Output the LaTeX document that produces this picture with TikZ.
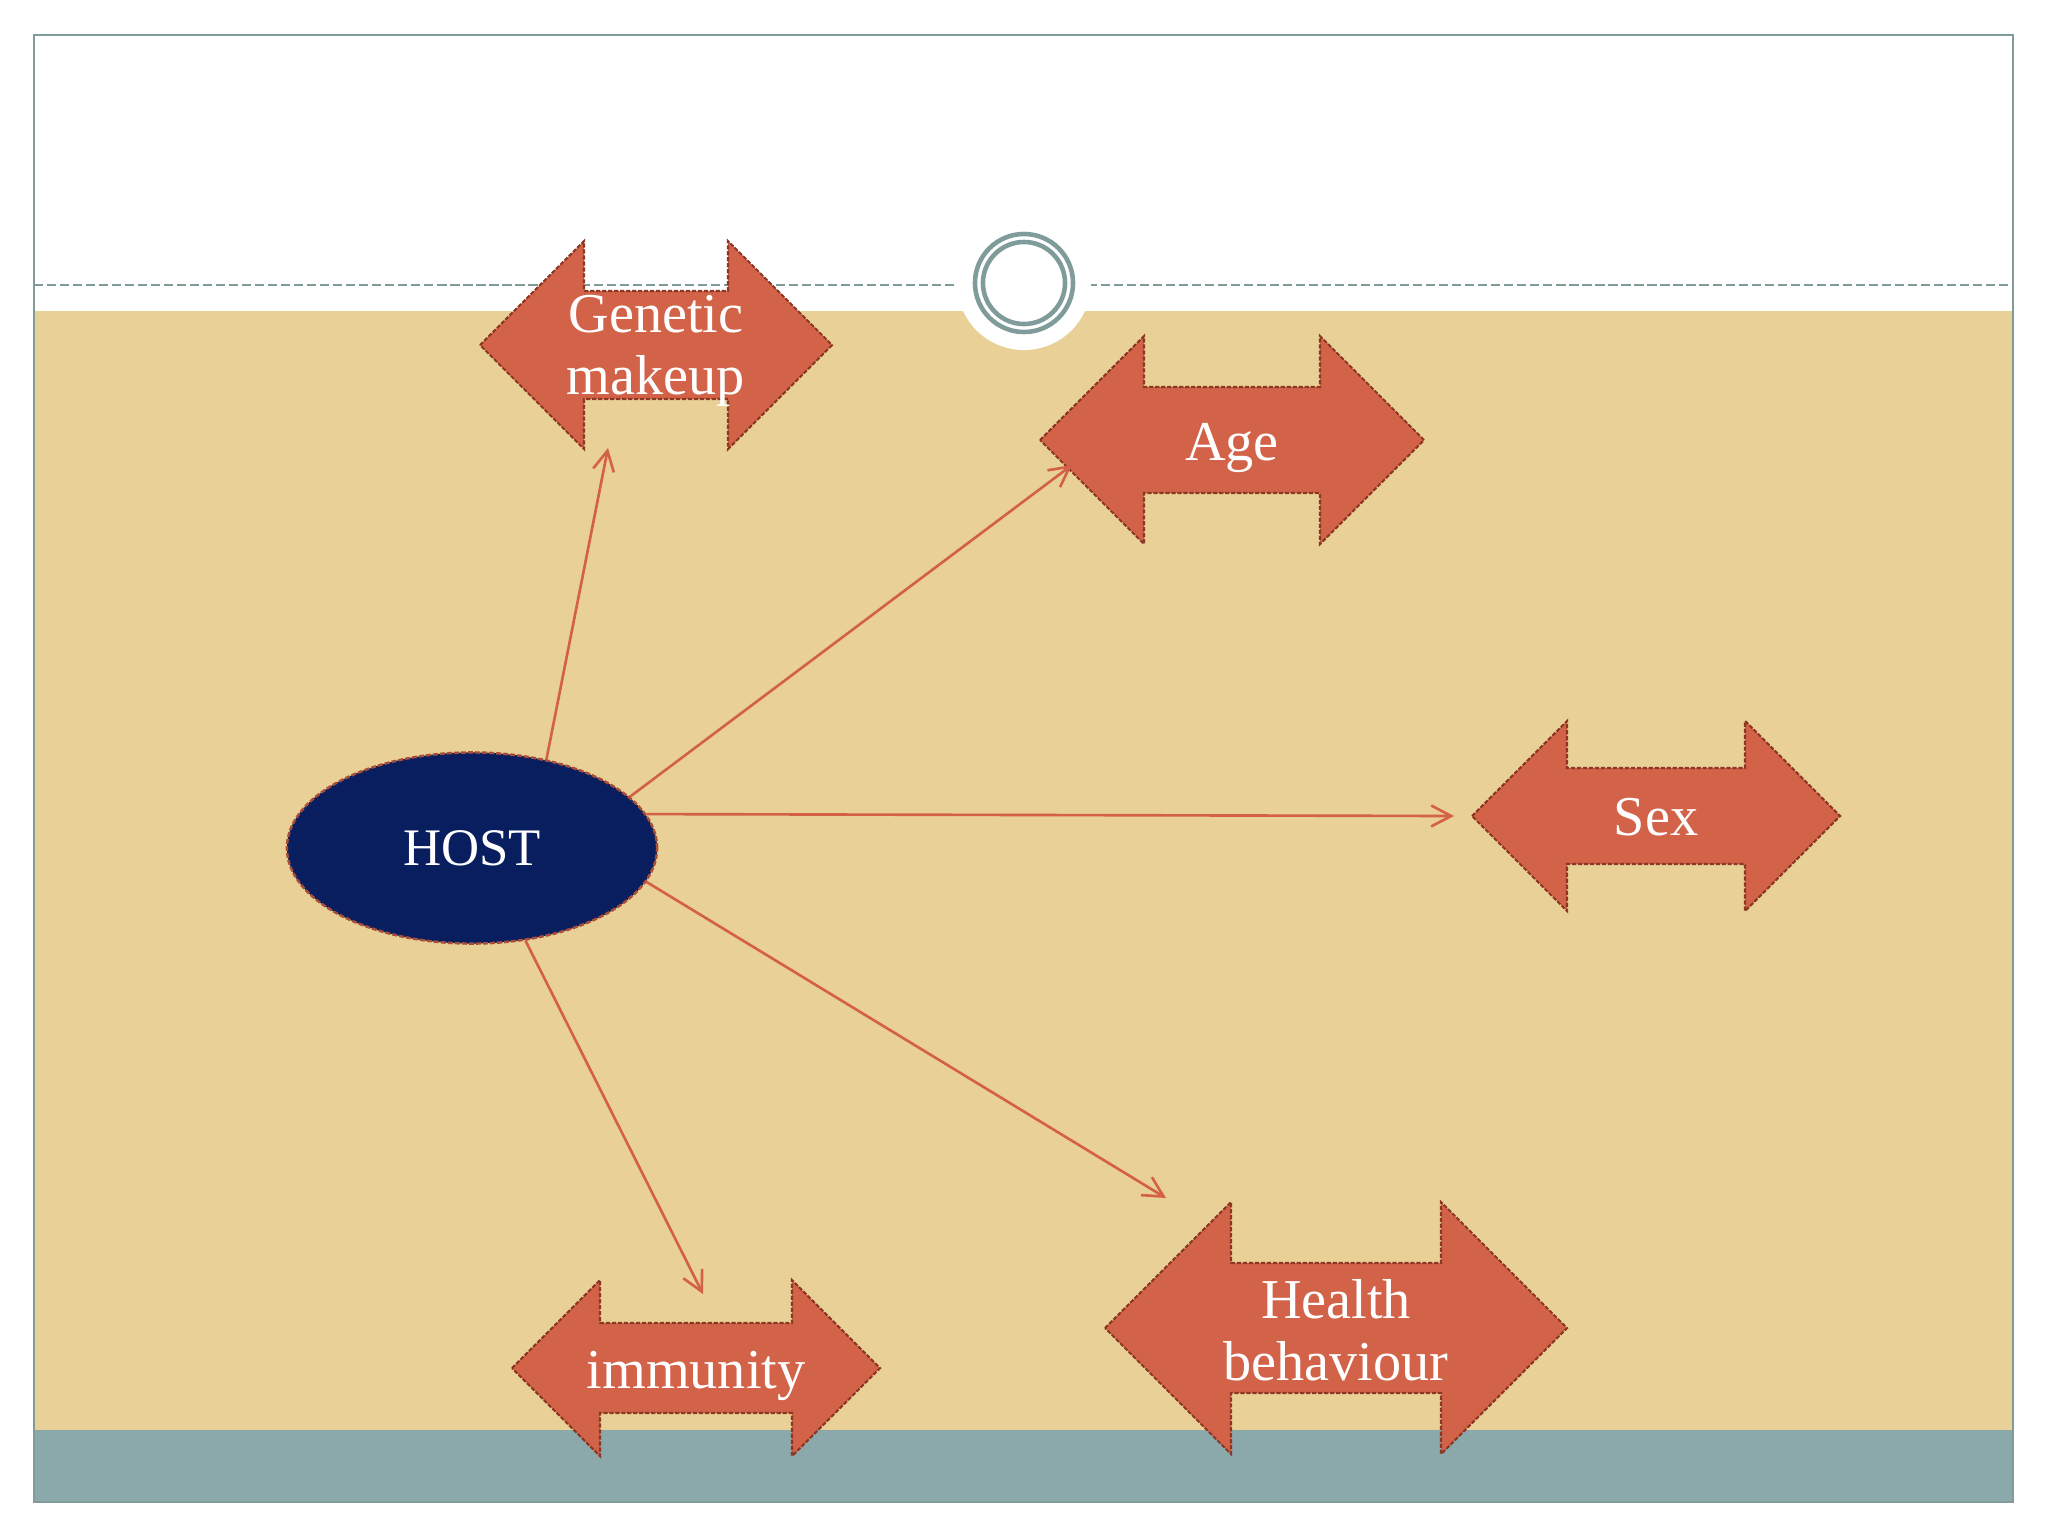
\documentclass[tikz,border=0pt]{standalone}
\usepackage{fontspec}
\setmainfont{Liberation Serif}
\usetikzlibrary{arrows.meta,shapes.geometric}

\definecolor{papyrus}{RGB}{232,208,150}
\definecolor{slate}{RGB}{127,156,154}
\definecolor{band}{RGB}{139,168,171}
\definecolor{brick}{RGB}{210,98,72}
\definecolor{brickline}{RGB}{140,55,35}
\definecolor{navy}{RGB}{8,30,94}
\definecolor{linkred}{RGB}{212,96,70}

\tikzset{
  dblarrow/.style={fill=brick, draw=brickline, line width=0.6pt, dash pattern=on 1.2pt off 0.5pt},
  lbl/.style={text=white, font=\fontsize{16}{17.5}\selectfont, align=center, inner sep=0pt},
  hostnode/.style={ellipse, fill=navy, draw=linkred!80!black, line width=0.7pt,
    dash pattern=on 1.4pt off 0.6pt, minimum width=3.7cm, minimum height=1.91cm,
    inner sep=0pt, text=white, font=\fontsize{15}{17}\selectfont},
  hostlink/.style={draw=linkred, line width=0.75pt, -{Straight Barb[length=2mm,width=2.1mm]}}
}

\begin{document}
\begin{tikzpicture}[x=0.01cm,y=-0.01cm]
\useasboundingbox (0,0) rectangle (2048,1536);
% slide
\fill[white] (0,0) rectangle (2048,1536);
\fill[papyrus] (34,311) rectangle (2013,1430);
\fill[band] (34,1430) rectangle (2013,1502);
\draw[slate, line width=0.6pt] (34,35) rectangle (2013,1502);
\draw[slate, line width=0.7pt, dash pattern=on 2.6pt off 1.1pt] (34,285) -- (2013,285);
\fill[white] (1024,283) circle[radius=0.67cm];
\draw[slate, line width=1.3pt] (1024,283) circle[radius=0.49cm];
\draw[slate, line width=1.3pt] (1024,283) circle[radius=0.41cm];

\begin{scope}[shift={(656,345)}] %GENETIC
\draw[dblarrow] (-176,0) -- (-72,-104) -- (-72,-54) -- (72,-54) -- (72,-104) -- (176,0)
  -- (72,104) -- (72,54) -- (-72,54) -- (-72,104) -- cycle;
\node[lbl] (gen) at (0,6) {Genetic\\makeup};
\coordinate (gen-in) at (-48,103);
\end{scope}

\begin{scope}[shift={(1232,440)}] %AGE
\draw[dblarrow] (-192,0) -- (-88,-104) -- (-88,-53) -- (88,-53) -- (88,-104) -- (192,0)
  -- (88,104) -- (88,53) -- (-88,53) -- (-88,104) -- cycle;
\node[lbl] (age) at (0,8) {Age};
\coordinate (age-in) at (-160,25);
\end{scope}

\begin{scope}[shift={(1656,816)}] %SEX
\draw[dblarrow] (-184,0) -- (-89,-95) -- (-89,-48) -- (89,-48) -- (89,-95) -- (184,0)
  -- (89,95) -- (89,48) -- (-89,48) -- (-89,95) -- cycle;
\node[lbl] (sex) at (0,1) {Sex};
\coordinate (sex-in) at (-202,0);
\end{scope}

\begin{scope}[shift={(696,1368)}] %IMMUNITY
\draw[dblarrow] (-184,0) -- (-96,-88) -- (-96,-45) -- (96,-45) -- (96,-88) -- (184,0)
  -- (96,88) -- (96,45) -- (-96,45) -- (-96,88) -- cycle;
\node[lbl] (imm) at (0,8) {immunity};
\coordinate (imm-in) at (7,-74);
\end{scope}

\begin{scope}[shift={(1336,1328)}] %HEALTH
\draw[dblarrow] (-231,0) -- (-105,-126) -- (-105,-65) -- (105,-65) -- (105,-126) -- (231,0)
  -- (105,126) -- (105,65) -- (-105,65) -- (-105,126) -- cycle;
\node[lbl] (health) at (0,2) {Health\\behaviour};
\coordinate (health-in) at (-170,-130);
\end{scope}

\node[hostnode] (host) at (472,848) {HOST};

\draw[hostlink] (host.50) -- (gen-in);
\draw[hostlink] (host.18) -- (age-in);
\draw[hostlink] (host.11) -- (sex-in);
\draw[hostlink] (host.-11) -- (health-in);
\draw[hostlink] (host.-60) -- (imm-in);
\end{tikzpicture}
\end{document}
